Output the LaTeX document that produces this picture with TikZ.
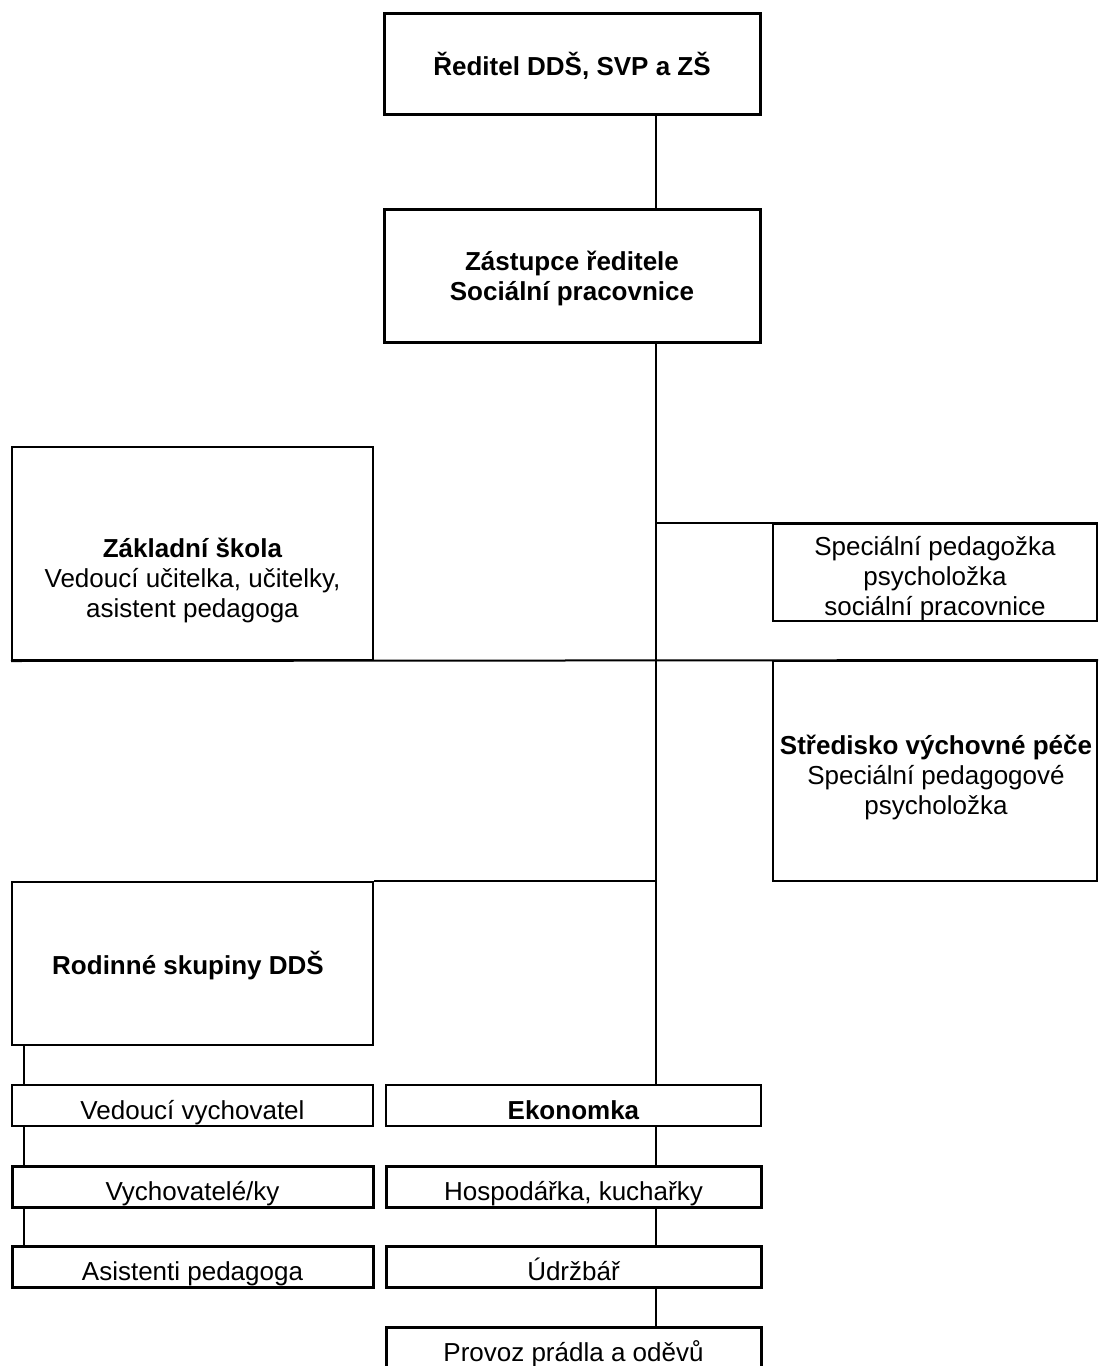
\documentclass[tikz,border=0pt]{standalone}
\usepackage{fontspec}
\setmainfont{Liberation Sans}
\begin{document}
\begin{tikzpicture}[x=1pt,y=-1pt,
  box/.style={draw, line width=2pt, fill=white, inner sep=0pt, align=center,
    font=\fontsize{26}{30}\selectfont},
  thickbox/.style={box, line width=3pt},
  row/.style={minimum height=41, text height=30, text depth=3},
  txt/.style={inner sep=0pt, align=center, anchor=base, font=\fontsize{26}{30}\selectfont},
  conn/.style={line width=2pt}]
\useasboundingbox (0,0) rectangle (1100,1366);
% spine coordinates
\coordinate (sp) at (656,0);
\coordinate (lp) at (24,0);
% top boxes
\node[thickbox, minimum width=376, minimum height=101] (dir) at (572,63.5) {};
\node[txt] (dirt) at (572,75) {\textbf{Ředitel DDŠ, SVP a ZŠ}};
\node[thickbox, minimum width=376, minimum height=133] (zast) at (572,275.5) {};
\node[txt] (zastt) at (572,300.5) {\textbf{Zástupce ředitele}\\\textbf{Sociální pracovnice}};
% middle boxes
\node[box, minimum width=361, minimum height=213] (zs) at (192.5,553.5) {};
\node[txt] (zst) at (192.5,617) {\textbf{Základní škola}\\Vedoucí učitelka, učitelky,\\asistent pedagoga};
\node[box, minimum width=324, minimum height=97] (spec) at (935,572.5) {};
\node[txt] (spect) at (935,615) {Speciální pedagožka\\psycholožka\\sociální pracovnice};
\node[box, minimum width=324, minimum height=220] (svp) at (935,771) {};
\node[txt] (svpt) at (936,814) {\textbf{Středisko výchovné péče}\\Speciální pedagogové\\psycholožka};
\node[box, minimum width=361, minimum height=163] (rod) at (192.5,963.5) {};
\node[txt] (rodt) at (188,974) {\textbf{Rodinné skupiny DDŠ}};
% lower rows
\node[box, row, minimum width=361] (ved) at (192.5,1105.5) {Vedoucí vychovatel};
\node[thickbox, row, minimum width=361] (vych) at (192.5,1187) {Vychovatelé/ky};
\node[thickbox, row, minimum width=361] (asis) at (192.5,1267) {Asistenti pedagoga};
\node[box, row, minimum width=375] (eko) at (573.5,1105.5) {\textbf{Ekonomka}};
\node[thickbox, row, minimum width=375] (hosp) at (573.5,1187) {Hospodářka, kuchařky};
\node[thickbox, row, minimum width=375] (udrz) at (573.5,1267) {Údržbář};
\node[thickbox, row, minimum width=375] (prov) at (573.5,1347.5) {Provoz prádla a oděvů};
% connectors
\draw[conn] (dir.south -| sp) -- (zast.north -| sp);
\draw[conn] (zast.south -| sp) -- (eko.north -| sp);
\draw[conn] (sp |- spec.north) -- (spec.north east);
\draw[conn] (zs.south west) -- (svp.north east);
\draw[conn] (rod.north east) -- (sp |- rod.north);
\draw[conn] (eko.south -| sp) -- (hosp.north -| sp);
\draw[conn] (hosp.south -| sp) -- (udrz.north -| sp);
\draw[conn] (udrz.south -| sp) -- (prov.north -| sp);
\draw[conn] (rod.south -| lp) -- (ved.north -| lp);
\draw[conn] (ved.south -| lp) -- (vych.north -| lp);
\draw[conn] (vych.south -| lp) -- (asis.north -| lp);
\end{tikzpicture}
\end{document}
